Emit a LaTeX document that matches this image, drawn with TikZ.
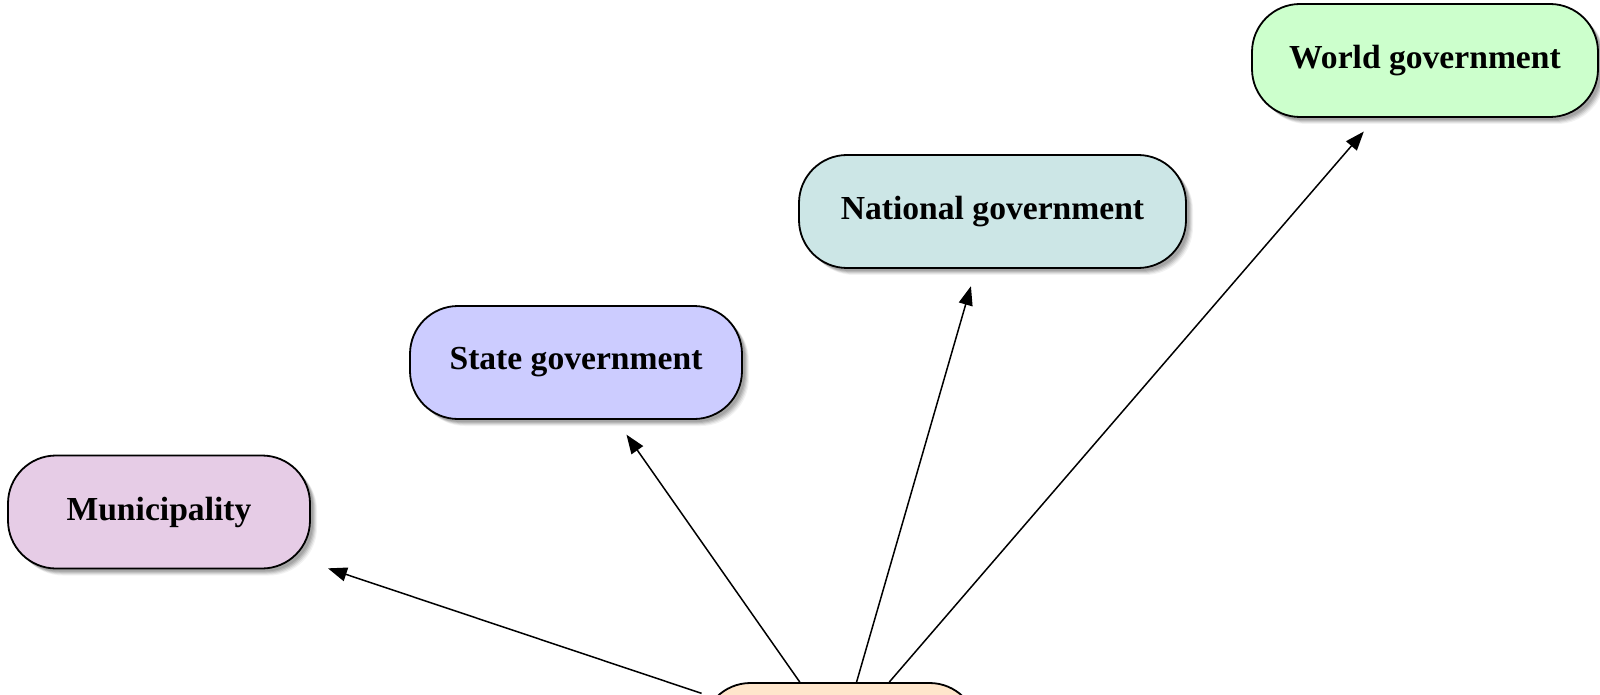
\documentclass[tikz,border=0pt]{standalone}
\usepackage{fontspec}
\setmainfont{Liberation Serif}
\usetikzlibrary{arrows.meta,shadows}
\definecolor{munfill}{RGB}{230,204,230}
\definecolor{statefill}{RGB}{204,204,255}
\definecolor{natfill}{RGB}{204,230,230}
\definecolor{worldfill}{RGB}{204,255,204}
\definecolor{basefill}{RGB}{255,230,204}
\begin{document}
\begin{tikzpicture}[x=0.5pt,y=-0.5pt,
  % soft shadow built from a few stacked translucent copies
  softshadow/.style={
    general shadow={fill=black, opacity=0.10, shadow xshift=1.5pt, shadow yshift=-1.5pt},
    general shadow={fill=black, opacity=0.10, shadow xshift=2pt,   shadow yshift=-2pt},
    general shadow={fill=black, opacity=0.09, shadow xshift=2.5pt, shadow yshift=-2.5pt},
    general shadow={fill=black, opacity=0.07, shadow xshift=3pt,   shadow yshift=-3pt},
    general shadow={fill=black, opacity=0.05, shadow xshift=3.5pt, shadow yshift=-3.5pt}},
  govbox/.style={draw=black, line width=0.9pt, rounded corners=24pt,
    minimum height=56.5pt, inner sep=0pt,
    font=\fontsize{16.8}{20}\selectfont\bfseries, softshadow},
  link/.style={line width=0.75pt, -{Triangle[length=9.5pt,width=7pt]}, shorten >=9pt}]
  \useasboundingbox (0,0) rectangle (1600,695);
  % levels of government
  \node[govbox, fill=munfill,   minimum width=151pt]   (mun)   at (159,512)    {Municipality};
  \node[govbox, fill=statefill, minimum width=166pt]   (state) at (576,362.5)  {State government};
  \node[govbox, fill=natfill,   minimum width=193.5pt] (nat)   at (992.5,211.5){National government};
  \node[govbox, fill=worldfill, minimum width=173pt]   (world) at (1425,60.5)  {World government};
  % base node at the bottom edge
  \node[govbox, fill=basefill,  minimum width=137.5pt] (base)  at (840,739.5)  {};
  % connectors
  \draw[link] (base) -- (mun);
  \draw[link] (base) -- (state);
  \draw[link] (base) -- (nat);
  \draw[link] (base) -- (world);
\end{tikzpicture}
\end{document}
